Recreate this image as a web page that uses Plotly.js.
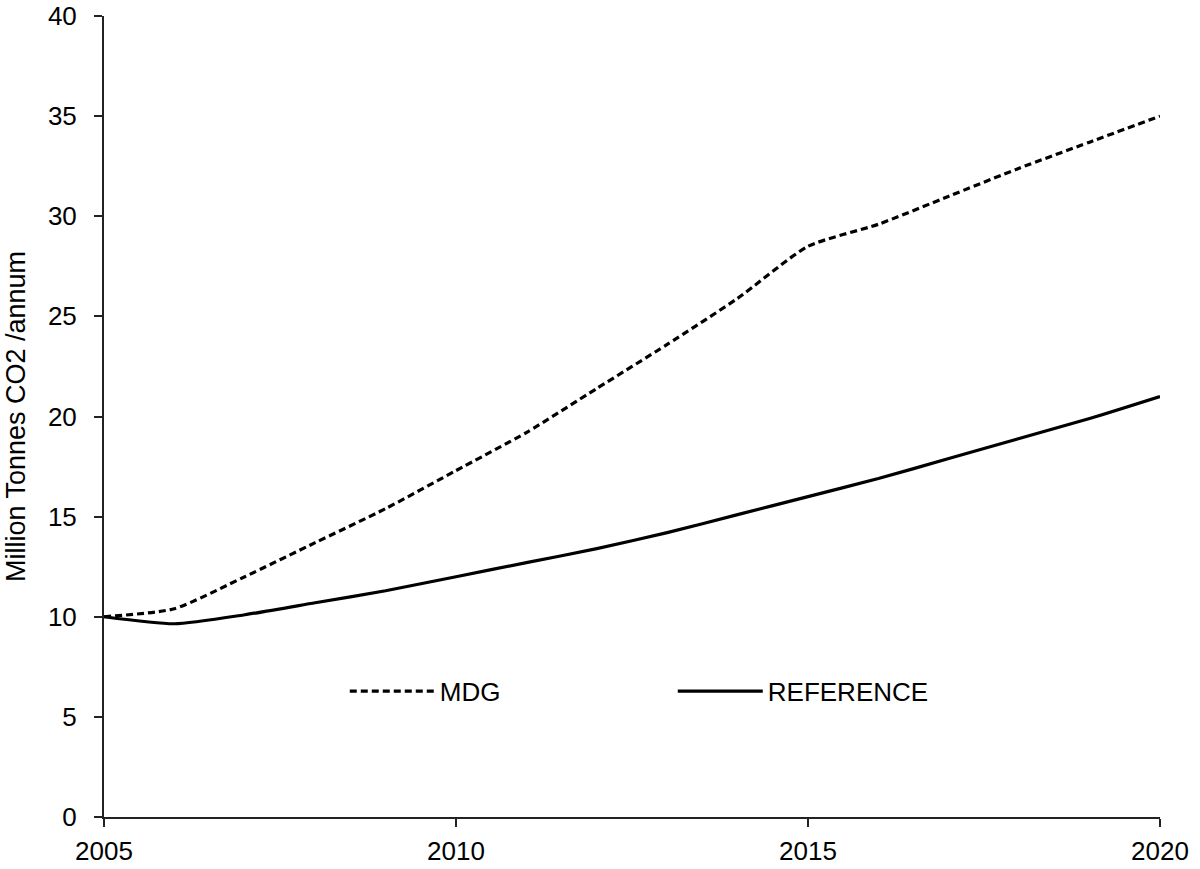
<!DOCTYPE html>
<html>
<head>
<meta charset="utf-8">
<script src="https://cdn.plot.ly/plotly-3.0.1.min.js"></script>
<style>html,body{margin:0;padding:0;background:#fff;}#chart{width:1200px;height:869px;}</style>
</head>
<body>
<div id="chart"></div>
<script>
const years = [2005, 2006, 2007, 2008, 2009, 2010, 2011, 2012, 2013, 2014, 2015, 2016, 2017, 2018, 2019, 2020];
const mdg = [10.0, 10.4, 12.0, 13.7, 15.4, 17.3, 19.2, 21.4, 23.6, 25.9, 28.5, 29.6, 31.0, 32.4, 33.7, 35.0];
const reference = [10.0, 9.65, 10.1, 10.7, 11.3, 12.0, 12.7, 13.4, 14.2, 15.1, 16.0, 16.9, 17.9, 18.9, 19.9, 21.0];
const xTicks = [2005, 2010, 2015, 2020];
const yTicks = [0, 5, 10, 15, 20, 25, 30, 35, 40];

const traces = [
  {x: years, y: mdg, name: 'MDG', mode: 'lines', type: 'scatter',
   line: {color: '#000', width: 3.2, dash: '7px,4px', shape: 'spline', smoothing: 0.6}},
  {x: years, y: reference, name: 'REFERENCE', mode: 'lines', type: 'scatter',
   line: {color: '#000', width: 3.2, shape: 'spline', smoothing: 0.6}}
];

const layout = {
  width: 1200, height: 869,
  margin: {l: 104, r: 40, t: 16, b: 52},
  paper_bgcolor: '#fff', plot_bgcolor: '#fff',
  font: {family: 'Liberation Sans, Arial, sans-serif', color: '#000', size: 26},
  showlegend: true,
  legend: {orientation: 'h', x: 0.228, y: 0.157, xanchor: 'left', yanchor: 'middle',
           font: {size: 26}, itemwidth: 85, entrywidth: 228, entrywidthmode: 'pixels',
           bgcolor: 'rgba(0,0,0,0)'},
  xaxis: {range: [2005, 2020], tickvals: xTicks, ticktext: xTicks.map(String),
          showgrid: false, zeroline: false, showline: true, linecolor: '#222', linewidth: 2,
          ticks: 'outside', ticklen: 8, tickwidth: 2, tickcolor: '#222',
          ticklabelstandoff: 2, ticklabeloverflow: 'allow', tickfont: {size: 26}},
  yaxis: {range: [0, 40], tickvals: yTicks, ticktext: yTicks.map(String),
          showgrid: false, zeroline: false, showline: true, linecolor: '#222', linewidth: 2,
          ticks: 'outside', ticklen: 8, tickwidth: 2, tickcolor: '#222',
          ticklabelstandoff: 12, ticklabeloverflow: 'allow', tickfont: {size: 26},
          title: {text: 'Million Tonnes CO2 /annum', font: {size: 27}, standoff: 14}}
};

Plotly.newPlot('chart', traces, layout, {displayModeBar: false, staticPlot: true});
</script>
</body>
</html>
